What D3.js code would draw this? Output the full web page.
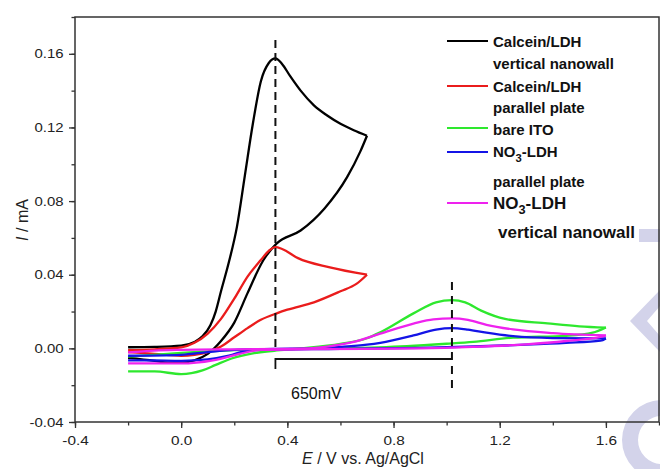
<!DOCTYPE html>
<html>
<head>
<meta charset="utf-8">
<script src="https://cdn.jsdelivr.net/npm/d3@7"></script>
<style>
  body { margin: 0; background: #fff; }
  svg { display: block; font-family: Arial, "Liberation Sans", sans-serif; }
</style>
</head>
<body>
<svg id="chart" width="660" height="469"></svg>
<script>
// cyclic voltammograms, [E (V), I (mA)] pairs, forward and reverse sweep
const nanowallFwd = [[-0.2,0.0006],[-0.1,0.0008],[0.0,0.0015],[0.05,0.0035],[0.08,0.0065],[0.11,0.0125],[0.13,0.02],[0.15,0.031],[0.18,0.047],[0.21,0.066],[0.24,0.094],[0.27,0.122],[0.3,0.145],[0.33,0.155],[0.355,0.1575],[0.38,0.1545],[0.41,0.148],[0.45,0.14],[0.5,0.132],[0.55,0.1265],[0.6,0.122],[0.65,0.1185],[0.7,0.1155]];
const nanowallRev = [[0.7,0.1155],[0.675,0.107],[0.625,0.093],[0.54,0.076],[0.45,0.064],[0.36,0.057],[0.31,0.048],[0.25,0.03],[0.2,0.014],[0.15,0.004],[0.1,-0.003],[0.05,-0.0065],[0.0,-0.0078],[-0.05,-0.0078],[-0.1,-0.0068],[-0.2,-0.0052]];
const plateFwd = [[-0.2,-0.001],[-0.1,-0.0005],[0.0,0.0005],[0.05,0.003],[0.1,0.008],[0.15,0.016],[0.2,0.027],[0.25,0.039],[0.3,0.048],[0.33,0.053],[0.355,0.055],[0.38,0.054],[0.44,0.049],[0.56,0.044],[0.7,0.04]];
const plateRev = [[0.7,0.04],[0.66,0.035],[0.6,0.031],[0.5,0.025],[0.4,0.021],[0.36,0.019],[0.3,0.0155],[0.25,0.011],[0.2,0.006],[0.15,0.001],[0.1,-0.002],[0.05,-0.0035],[0.0,-0.004],[-0.1,-0.003],[-0.2,-0.002]];
const itoFwd = [[-0.2,-0.0125],[-0.1,-0.0125],[0.0,-0.014],[0.08,-0.012],[0.13,-0.009],[0.19,-0.0055],[0.27,-0.0027],[0.35,-0.0013],[0.45,0.0],[0.6,0.0025],[0.7,0.0055],[0.75,0.0087],[0.875,0.019],[0.96,0.025],[1.02,0.0262],[1.07,0.025],[1.13,0.0205],[1.22,0.016],[1.38,0.0136],[1.5,0.012],[1.6,0.0113]];
const itoRev = [[1.6,0.0113],[1.55,0.0085],[1.45,0.0068],[1.25,0.0058],[1.1,0.0035],[1.0,0.0025],[0.85,0.0012],[0.6,0.0],[0.35,-0.0005],[0.2,-0.001],[0.0,-0.0025],[-0.2,-0.0045]];
const no3PlateFwd = [[-0.2,-0.004],[0.0,-0.0035],[0.1,-0.002],[0.2,-0.0008],[0.35,-0.0003],[0.5,0.0],[0.6,0.0008],[0.7,0.002],[0.75,0.003],[0.875,0.007],[0.96,0.0102],[1.02,0.011],[1.08,0.0102],[1.15,0.0085],[1.25,0.0066],[1.4,0.0056],[1.6,0.0054]];
const no3PlateRev = [[1.6,0.0054],[1.58,0.0042],[1.45,0.003],[1.3,0.002],[1.1,0.001],[0.9,0.0003],[0.6,-0.0003],[0.3,-0.0008],[0.25,-0.0012],[0.18,-0.004],[0.1,-0.006],[0.0,-0.0068],[-0.1,-0.0066],[-0.2,-0.0065]];
const no3WallFwd = [[-0.2,-0.0022],[-0.1,-0.0012],[0.0,-0.0008],[0.2,-0.0005],[0.4,-0.0003],[0.55,0.001],[0.65,0.0035],[0.75,0.008],[0.875,0.0135],[0.95,0.0158],[1.02,0.0163],[1.08,0.0155],[1.15,0.0128],[1.25,0.0103],[1.4,0.0083],[1.6,0.007]];
const no3WallRev = [[1.6,0.007],[1.58,0.0062],[1.45,0.004],[1.3,0.0022],[1.1,0.0008],[0.9,0.0],[0.5,-0.0004],[0.3,-0.0008],[0.22,-0.003],[0.12,-0.0065],[0.0,-0.0082],[-0.1,-0.0082],[-0.2,-0.0082]];

const seriesColors = ["#000000", "#ea1c1c", "#2ee82e", "#1414e6", "#ee22ee"];
const seriesData = [[nanowallFwd, nanowallRev], [plateFwd, plateRev], [itoFwd, itoRev], [no3PlateFwd, no3PlateRev], [no3WallFwd, no3WallRev]];

const xTicks = [-0.4, 0.0, 0.4, 0.8, 1.2, 1.6];
const yTicks = [-0.04, 0.0, 0.04, 0.08, 0.12, 0.16];
const peakE = [0.355, 1.02];   // marked peak potentials
const splitLabel = "650mV";

const svg = d3.select("#chart");
const x = d3.scaleLinear().domain([-0.4, 1.8]).range([75, 659]);
const y = d3.scaleLinear().domain([-0.04, 0.18]).range([422, 17]);
const axisCol = "#333";
const plain = f => d => d3.format(f)(d).replace("\u2212", "-");

// watermark fragments along the right edge
const wm = svg.append("g").attr("fill", "#d3d3ea");
wm.append("rect").attr("x", 639).attr("y", 229).attr("width", 21).attr("height", 13);
wm.append("path").attr("d", "M660,290 L630,321 L660,352 L660,336 L647,321 L660,306 Z");
wm.append("path").attr("d", d3.arc()({innerRadius: 24, outerRadius: 40, startAngle: -Math.PI, endAngle: 0}))
  .attr("transform", "translate(662,440)");

// axes
const xMinor = d3.range(-0.4, 1.81, 0.2);
const yMinor = d3.range(-0.04, 0.181, 0.02);
svg.append("g").attr("transform", "translate(0,422)")
  .call(d3.axisBottom(x).tickValues(xMinor).tickSize(3.5).tickFormat(""))
  .call(g => g.select(".domain").remove())
  .selectAll("line").attr("stroke", axisCol).attr("stroke-width", 1.3);
svg.append("g").attr("transform", "translate(75,0)")
  .call(d3.axisLeft(y).tickValues(yMinor).tickSize(3.5).tickFormat(""))
  .call(g => g.select(".domain").remove())
  .selectAll("line").attr("stroke", axisCol).attr("stroke-width", 1.3);

const gx = svg.append("g").attr("transform", "translate(0,422)")
  .call(d3.axisBottom(x).tickValues(xTicks).tickSize(6).tickPadding(8).tickFormat(plain(".1f")));
gx.select(".domain").remove();
gx.selectAll("line").attr("stroke", axisCol).attr("stroke-width", 1.3);
gx.selectAll("text").attr("font-size", 13).attr("fill", "#222")
  .attr("font-family", "Arial, 'Liberation Sans', sans-serif").attr("transform", "scale(1.18,1)");

const gy = svg.append("g").attr("transform", "translate(75,0)")
  .call(d3.axisLeft(y).tickValues(yTicks).tickSize(6).tickPadding(4).tickFormat(plain(".2f")));
gy.select(".domain").remove();
gy.selectAll("line").attr("stroke", axisCol).attr("stroke-width", 1.3);
gy.selectAll("text").attr("font-size", 13).attr("fill", "#222")
  .attr("font-family", "Arial, 'Liberation Sans', sans-serif").attr("transform", "scale(1.15,1)");

svg.append("rect").attr("x", 75).attr("y", 17).attr("width", 584).attr("height", 405)
  .attr("fill", "none").attr("stroke", axisCol).attr("stroke-width", 1.5);

// axis titles
const xt = svg.append("text").attr("x", 363).attr("y", 464).attr("text-anchor", "middle")
  .attr("font-size", 16).attr("fill", "#222");
xt.append("tspan").attr("font-style", "italic").text("E");
xt.append("tspan").text(" / V vs. Ag/AgCl");
const yt = svg.append("text").attr("transform", "translate(28,220) rotate(-90)").attr("text-anchor", "middle")
  .attr("font-size", 16).attr("fill", "#222");
yt.append("tspan").attr("font-style", "italic").text("I");
yt.append("tspan").text(" / mA");

// curves, each sweep drawn on its own so the vertex stays sharp
const line = d3.line().x(d => x(d[0])).y(d => y(d[1])).curve(d3.curveMonotoneX);
seriesData.forEach((segs, i) => {
  segs.forEach(seg => {
    svg.append("path").datum(seg).attr("d", line)
      .attr("fill", "none").attr("stroke", seriesColors[i]).attr("stroke-width", 2.3)
      .attr("stroke-linejoin", "round");
  });
});

// peak separation markers
svg.append("line").attr("x1", x(peakE[0])).attr("x2", x(peakE[0])).attr("y1", 40).attr("y2", 352)
  .attr("stroke", "#111").attr("stroke-width", 2).attr("stroke-dasharray", "8,5");
svg.append("line").attr("x1", x(peakE[1])).attr("x2", x(peakE[1])).attr("y1", 282).attr("y2", 392)
  .attr("stroke", "#111").attr("stroke-width", 2).attr("stroke-dasharray", "8,6");
svg.append("path")
  .attr("d", `M${x(peakE[0])},369 V359 H${x(peakE[1])}`)
  .attr("fill", "none").attr("stroke", "#111").attr("stroke-width", 1.8);
svg.append("text").attr("x", 291).attr("y", 399).attr("font-size", 16).attr("fill", "#111").text(splitLabel);

// legend
const legRows = [
  {col: 0, line: 41, rows: [[47, "Calcein/LDH"], [69, "vertical nanowall"]], size: 15, dx: 0},
  {col: 1, line: 86, rows: [[92, "Calcein/LDH"], [113, "parallel plate"]], size: 15, dx: 0},
  {col: 2, line: 128, rows: [[135, "bare ITO"]], size: 15, dx: 0},
  {col: 3, line: 152, rows: [[157, "NO3-LDH"], [187, "parallel plate"]], size: 15, dx: 0},
  {col: 4, line: 203, rows: [[209, "NO3-LDH"], [238, "vertical nanowall"]], size: 17, dx: 5}
];
const leg = svg.append("g").attr("font-weight", "bold").attr("fill", "#111");
legRows.forEach(r => {
  leg.append("line").attr("x1", 447).attr("x2", 488).attr("y1", r.line).attr("y2", r.line)
    .attr("stroke", seriesColors[r.col]).attr("stroke-width", 2.2);
  r.rows.forEach(([by, txt]) => {
    const t = leg.append("text").attr("x", 493 + (txt === "NO3-LDH" ? 0 : r.dx)).attr("y", by).attr("font-size", r.size);
    if (txt === "NO3-LDH") {
      t.append("tspan").text("NO");
      t.append("tspan").attr("font-size", r.size * 0.75).attr("dy", 5).text("3");
      t.append("tspan").attr("dy", -5).text("-LDH");
    } else {
      t.text(txt);
    }
  });
});
</script>
</body>
</html>
